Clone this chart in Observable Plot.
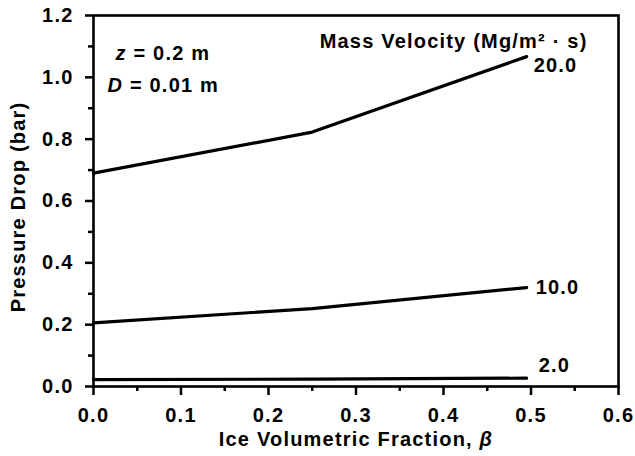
<!DOCTYPE html>
<html>
<head>
<meta charset="utf-8">
<script src="https://cdn.jsdelivr.net/npm/d3@7"></script>
<script src="https://cdn.jsdelivr.net/npm/@observablehq/plot@0.6"></script>
<style>
  html, body { margin: 0; padding: 0; background: white; }
</style>
</head>
<body>
<div id="chart"></div>
<script>
// Data
const beta = [0, 0.25, 0.495];
const seriesNames = ["2.0", "10.0", "20.0"];
const drop2 = [0.022, 0.024, 0.027];
const drop10 = [0.206, 0.252, 0.32];
const drop20 = [0.69, 0.823, 1.067];
const xTicks = [0, 0.1, 0.2, 0.3, 0.4, 0.5, 0.6];
const xMinorTicks = [0.05, 0.15, 0.25, 0.35, 0.45, 0.55];
const yTicks = [0, 0.2, 0.4, 0.6, 0.8, 1.0, 1.2];
const yMinorTicks = [0.1, 0.3, 0.5, 0.7, 0.9, 1.1];

const valuesBySeries = {"2.0": drop2, "10.0": drop10, "20.0": drop20};
const rows = seriesNames.flatMap(s => beta.map((b, i) => ({series: s, beta: b, drop: valuesBySeries[s][i], last: i === beta.length - 1})));
const lastOf = s => rows.filter(r => r.series === s && r.last);

const chart = Plot.plot({
  width: 635,
  height: 456,
  marginLeft: 93,
  marginRight: 17,
  marginTop: 15,
  marginBottom: 70,
  style: {
    fontFamily: "'Liberation Sans', Arial, Helvetica, sans-serif",
    fontSize: "20px",
    fontWeight: "600",
    letterSpacing: "1.2px",
    background: "white",
    color: "black"
  },
  x: {domain: [0, 0.6]},
  y: {domain: [0, 1.2]},
  marks: [
    Plot.axisX(xTicks, {tickSize: 9, tickPadding: 12, tickFormat: d3.format(".1f"), strokeWidth: 2.5, label: null}),
    Plot.axisX(xMinorTicks, {tickSize: 5, tickFormat: () => "", strokeWidth: 2.5, label: null}),
    Plot.axisY(yTicks, {tickSize: 8, tickPadding: 12, tickFormat: d3.format(".1f"), strokeWidth: 2.5, label: null}),
    Plot.axisY(yMinorTicks, {tickSize: 5, tickFormat: () => "", strokeWidth: 2.5, label: null}),
    Plot.frame({stroke: "black", strokeWidth: 2.6}),
    Plot.line(rows, {x: "beta", y: "drop", z: "series", stroke: "black", strokeWidth: 3.2}),
    Plot.text(lastOf("20.0"), {x: "beta", y: "drop", text: "series", textAnchor: "start", dx: 7, dy: 9}),
    Plot.text(lastOf("10.0"), {x: "beta", y: "drop", text: "series", textAnchor: "start", dx: 9, dy: 0}),
    Plot.text(lastOf("2.0"), {x: "beta", y: "drop", text: "series", textAnchor: "start", dx: 12, dy: -13}),
    Plot.text(["Mass Velocity (Mg/m² · s)"], {frameAnchor: "top-right", textAnchor: "end", dx: -31, dy: 18}),
    Plot.text(["z = 0.2 m"], {frameAnchor: "top-left", textAnchor: "start", dx: 22, dy: 30}),
    Plot.text(["D = 0.01 m"], {frameAnchor: "top-left", textAnchor: "start", dx: 14, dy: 62}),
    Plot.text(["Pressure Drop (bar)"], {frameAnchor: "left", textAnchor: "middle", rotate: -90, dx: -75, dy: 6}),
    Plot.text(["Ice Volumetric Fraction, β"], {frameAnchor: "bottom", textAnchor: "middle", dy: 59})
  ]
});

// Italicise the math symbols
const italicise = (full, sym, rest, atEnd) => {
  chart.querySelectorAll("text").forEach(t => {
    if (t.textContent === full) {
      t.textContent = "";
      const ns = "http://www.w3.org/2000/svg";
      const it = document.createElementNS(ns, "tspan");
      it.setAttribute("font-style", "italic");
      it.textContent = sym;
      if (atEnd) {
        t.appendChild(document.createTextNode(rest));
        t.appendChild(it);
      } else {
        t.appendChild(it);
        t.appendChild(document.createTextNode(rest));
      }
    }
  });
};
italicise("z = 0.2 m", "z", " = 0.2 m", false);
italicise("D = 0.01 m", "D", " = 0.01 m", false);
italicise("Ice Volumetric Fraction, β", "β", "Ice Volumetric Fraction, ", true);

document.getElementById("chart").appendChild(chart);
</script>
</body>
</html>
